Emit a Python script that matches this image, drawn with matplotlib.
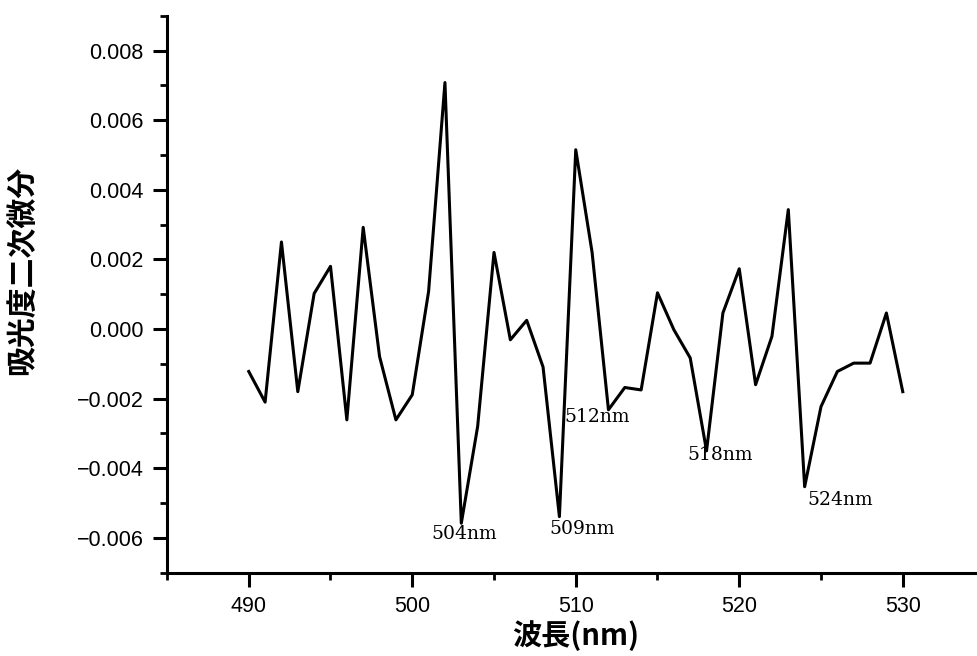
import matplotlib
matplotlib.use("Agg")
import matplotlib.pyplot as plt
from matplotlib.ticker import MultipleLocator, FuncFormatter

# wavelength (nm) and second derivative of absorbance
wavelength = list(range(490, 531))
deriv2 = [-0.00122, -0.0021, 0.0025, -0.0018, 0.00102, 0.0018, -0.00261, 0.00292, -0.00079, -0.00261,
          -0.00189, 0.00108, 0.00708, -0.00558, -0.0028, 0.0022, -0.00031, 0.00025, -0.00109, -0.00539,
          0.00515, 0.0022, -0.00232, -0.00168, -0.00175, 0.00104, -0.00002, -0.00083, -0.0035, 0.00046,
          0.00173, -0.0016, -0.00021, 0.00343, -0.00453, -0.00223, -0.00122, -0.00098, -0.00098, 0.00046,
          -0.0018]

# peak labels: text, x, y (data coords of text centre)
peak_text = ["504nm", "509nm", "512nm", "518nm", "524nm"]
peak_x = [503.2, 510.4, 511.3, 518.8, 526.2]
peak_y = [-0.0059, -0.00575, -0.00252, -0.00362, -0.0049]

xlabel = "波長(nm)"
ylabel = "吸光度二次微分"

cjk = ['Noto Sans CJK JP', 'DejaVu Sans']

fig = plt.figure(figsize=(9.77, 6.56), dpi=100)
ax = fig.add_axes([167/977, 83.3/656, 817.5/977, 557/656])

ax.plot(wavelength, deriv2, color='black', lw=2.2)

for t, x, y in zip(peak_text, peak_x, peak_y):
    ax.text(x, y, t, family='DejaVu Serif', fontsize=13.5, ha='center', va='center')

ax.set_xlim(485, 535)
ax.set_ylim(-0.007, 0.009)
ax.xaxis.set_major_locator(MultipleLocator(10))
ax.xaxis.set_minor_locator(MultipleLocator(5))
ax.yaxis.set_major_locator(MultipleLocator(0.002))
ax.yaxis.set_minor_locator(MultipleLocator(0.001))
ax.yaxis.set_major_formatter(FuncFormatter(lambda v, p: ("%.3f" % v).replace("-", "\u2212")))

for s in ['top', 'right']:
    ax.spines[s].set_visible(False)
for s in ['left', 'bottom']:
    ax.spines[s].set_linewidth(2.2)

ax.tick_params(which='major', direction='out', length=10, width=2.2, labelsize=15.5, pad=7)
ax.tick_params(which='minor', direction='out', length=5, width=2.0)
for lab in ax.get_xticklabels() + ax.get_yticklabels():
    lab.set_family('Liberation Sans')

ax.text(0.5, (572.7 - 636) / 557, xlabel, transform=ax.transAxes, ha='center', va='center',
        family=cjk, fontsize=21, fontweight='bold')
ax.text((22 - 167) / 817.5, (572.7 - 270) / 557, ylabel, transform=ax.transAxes, ha='center',
        va='center', rotation=90, family=cjk, fontsize=21.5, fontweight='bold')

fig.savefig("out.png", dpi=100)
